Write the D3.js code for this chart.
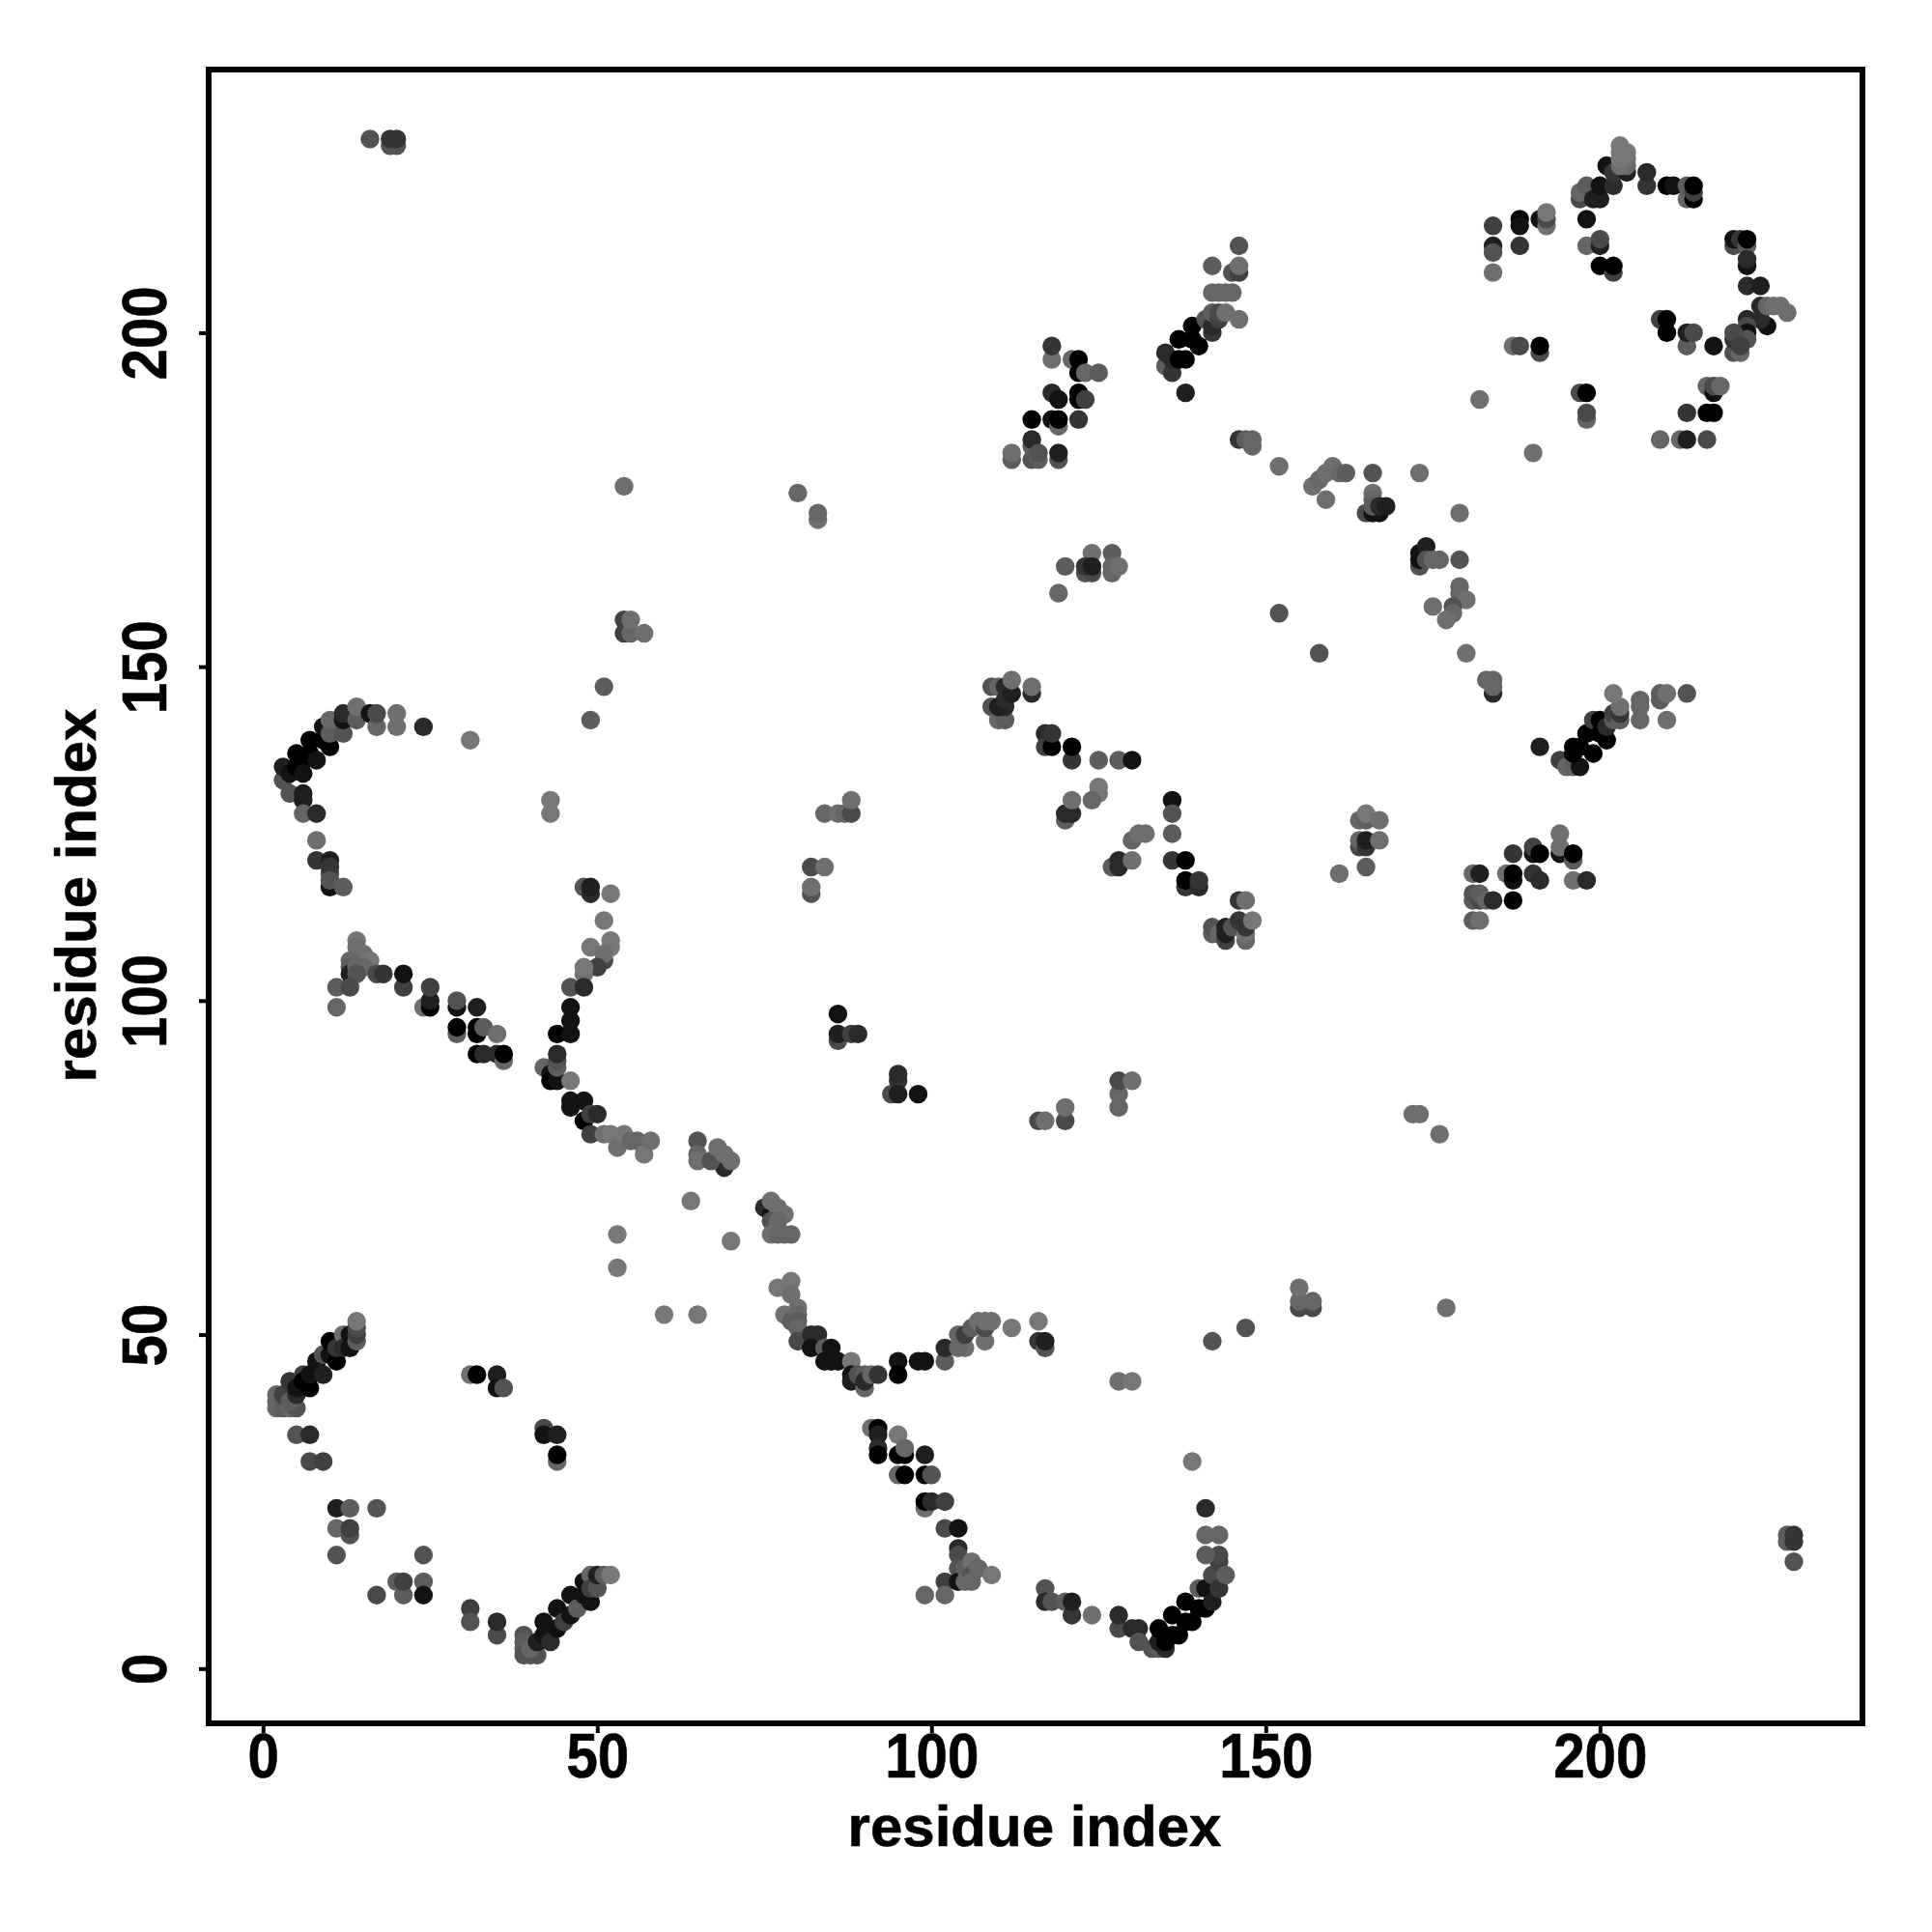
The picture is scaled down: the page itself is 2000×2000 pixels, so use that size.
<!DOCTYPE html>
<html><head><meta charset="utf-8">
<script src="https://cdn.jsdelivr.net/npm/d3@7"></script>
<style>html,body{margin:0;padding:0;background:#fff}svg{display:block}
text{font-family:"Liberation Sans",Arial,sans-serif;font-weight:700;fill:#000}</style>
</head><body><svg id="c" width="2000" height="2000"></svg>
<script>
// Each contact: [residue i, residue j, shade] ; shade 0 = black ... 12 = lightest grey
const xTicks=[0,50,100,150,200];
const yTicks=[0,50,100,150,200];
const axisLabel="residue index";
const lowerLeftCurve=[[2,41,9],[2,40,9],[2,39,9],[3,39,8],[4,39,9],[5,39,7],[3,41,5],[4,40,8],[4,43,4],[5,41,3],[5,42,1],[6,44,5],[6,43,0],[7,42,0],[7,44,1],[8,45,1],[8,46,1],[9,44,2],[9,47,7],[10,47,1],[10,49,0],[11,46,0],[11,48,4],[12,50,10],[12,48,3],[13,48,1],[13,50,1],[14,49,8],[14,50,5],[14,51,6],[14,52,11]];
const lowerLeftLoop=[[5,35,7],[7,35,3],[7,31,6],[9,31,5],[11,24,2],[13,24,8],[17,24,7],[11,21,9],[13,20,7],[13,21,5],[11,17,7],[24,17,7],[20,13,8],[21,11,8],[21,13,5],[24,13,8],[24,11,1],[17,11,6],[31,9,5],[31,7,7],[35,5,6],[35,7,3]];
const lowerLeftRise=[[39,5,7],[39,4,8],[39,3,8],[39,2,7],[40,2,7],[41,2,7],[40,3,9],[41,4,2],[42,5,1],[42,7,1],[43,4,3],[44,6,1],[44,9,1],[45,7,5],[46,8,1],[46,11,1],[47,9,8],[48,11,1],[48,13,1],[49,10,1],[49,14,9],[49,12,5],[50,12,7],[50,14,2],[51,14,8],[52,14,11]];
const sparseLow=[[53,65,11],[53,60,11],[70,64,11],[60,53,11],[65,53,11],[31,44,10],[32,44,0],[35,44,2],[35,42,1],[36,42,7],[42,36,6],[42,35,1],[44,35,2],[44,31,9],[44,32,0]];
const middleRibbon=[[75,69,3],[76,68,1],[76,70,10],[77,69,10],[78,68,10],[76,67,7],[77,67,9],[76,65,10],[77,65,9],[78,65,9],[79,65,9],[77,57,11],[79,58,11],[79,56,10],[78,53,10],[79,52,8],[80,54,10],[80,53,9],[80,52,8],[80,51,9],[80,49,6],[82,50,3],[83,50,3],[82,48,1],[84,48,8],[85,48,1],[84,46,1],[85,46,1],[86,46,1],[88,46,11],[88,44,1],[88,43,2],[89,44,7],[90,44,8],[90,42,9],[90,43,3],[91,44,9],[92,44,4]];
const middleArc=[[95,46,1],[95,44,0],[98,46,1],[99,46,1],[102,46,8],[102,48,3],[104,50,9],[105,48,10],[104,48,9],[105,50,5],[106,51,8],[107,52,10],[108,49,10],[108,51,6],[108,52,10],[109,52,10],[112,51,11],[116,52,11],[116,49,4],[117,48,7],[117,49,2],[128,43,10],[130,43,11],[142,49,7],[147,51,7]];
const middleFall=[[91,36,10],[92,36,0],[92,35,2],[92,33,3],[92,32,0],[95,35,11],[95,32,0],[96,32,0],[96,33,9],[99,32,2],[95,29,9],[96,29,0],[99,29,0],[100,29,7],[99,24,10],[99,25,0],[100,25,3],[102,25,5],[102,21,6],[104,21,1],[104,18,3],[104,17,6],[104,15,7],[102,13,5],[99,11,9],[102,11,9],[104,13,1],[105,15,8],[105,13,9],[106,16,10],[106,14,7],[106,13,9],[107,15,9],[109,14,11]];
const lowerMiddleCurve=[[117,12,7],[117,10,3],[118,10,7],[120,10,8],[121,8,4],[121,10,2],[124,8,10],[128,6,6],[128,8,3],[130,6,3],[131,6,3],[131,4,7],[133,3,7],[134,3,8],[135,3,3],[134,4,2],[134,6,0],[135,4,0],[136,5,0],[136,8,0],[137,5,0],[138,7,0],[138,10,0],[139,7,0],[140,12,8],[140,9,0],[141,9,0],[141,12,1],[142,10,2],[142,14,6],[143,12,4],[143,16,5],[143,17,6],[141,17,8],[144,14,8],[141,20,9],[143,20,9],[141,24,3],[139,31,11]];
const upperLeftArc=[[3,133,7],[3,135,2],[4,131,7],[4,134,1],[5,137,0],[5,135,0],[6,136,0],[6,134,1],[7,139,0],[7,137,0],[8,136,1],[9,139,0],[9,141,1],[10,138,0],[10,140,8],[10,142,9],[12,140,7],[12,142,1],[12,143,3],[14,142,8],[14,144,10],[16,143,1],[17,141,9],[17,143,6],[20,141,10],[20,143,10],[24,141,3],[31,139,11],[6,131,2],[6,130,2],[6,128,9],[8,128,3],[8,124,10],[8,121,4],[10,119,7],[10,121,2],[10,120,4],[10,117,1],[10,118,7],[12,117,8]];
const upperLeftTriangle=[[14,109,11],[14,108,10],[15,107,10],[16,106,11],[13,106,9],[13,105,8],[13,104,2],[14,105,9],[15,105,9],[14,104,7],[17,104,6],[18,104,4],[11,102,8],[13,102,6],[11,99,9],[21,102,5],[21,104,1],[24,99,10],[25,99,0],[25,100,2],[25,102,5],[29,99,1],[29,100,7],[29,95,8],[29,96,0],[32,99,2],[32,95,0],[32,96,0],[33,96,8],[35,95,10],[32,92,0],[33,92,3],[35,92,3],[36,91,9],[36,92,0]];
const centerVertical=[[51,147,8],[49,142,8],[43,130,11],[43,128,11],[48,117,7],[49,116,3],[49,117,2],[52,116,11],[51,112,11],[49,108,11],[52,109,11],[52,108,11],[51,106,6],[51,107,10],[50,105,5],[48,104,10],[48,105,11],[46,102,7],[48,102,3],[46,97,1],[46,99,1],[44,95,0],[46,95,1],[42,90,9],[43,89,1],[43,88,0],[44,88,1],[44,90,8],[44,91,7],[44,92,3],[46,88,11],[46,84,1],[46,85,1],[48,82,0],[48,85,1],[49,83,5],[50,83,3],[49,80,5],[51,80,10],[52,80,11],[53,78,10],[54,80,11],[55,79,9],[56,79,9],[57,77,11],[58,79,10],[69,75,3],[65,79,7],[65,77,9],[65,76,10],[67,76,7],[68,78,10],[69,77,10],[70,76,10],[64,70,11]];
const topLeftSparse=[[16,229,7],[19,228,7],[20,228,7],[19,229,4],[20,229,4],[54,177,10],[54,155,5],[54,157,5],[55,155,9],[55,157,10],[57,155,10],[80,176,9],[83,172,10],[83,173,9]];
const centerSparse=[[84,128,9],[86,128,10],[87,128,9],[88,128,6],[88,130,10],[82,116,7],[82,117,10],[82,120,6],[84,120,10],[86,94,6],[86,95,2],[86,98,1],[88,95,5],[89,95,3],[94,86,6],[95,88,4],[95,89,3],[95,86,2],[98,86,1],[128,84,9],[128,86,9],[128,88,6],[130,88,10],[120,82,6],[120,84,10],[116,82,6],[117,82,10],[172,83,10],[173,83,10],[176,80,10],[177,54,10],[155,54,6],[157,54,6],[155,55,9],[157,55,9],[155,57,10],[228,19,8],[228,20,8],[229,19,4],[229,20,4],[229,16,7]];
const centerFall=[[109,147,7],[110,147,9],[109,144,7],[110,142,9],[111,142,8],[111,144,3],[110,144,2],[111,145,3],[111,147,3],[112,146,2],[112,148,10],[115,146,3],[115,147,10],[117,140,3],[117,138,5],[118,138,0],[118,140,4],[121,136,4],[121,138,0],[125,136,8],[128,136,8],[130,136,1],[125,131,11],[125,132,11],[124,130,9],[120,127,8],[120,128,3],[121,128,3],[121,130,10],[130,124,9],[131,125,10],[132,125,10],[127,120,8],[128,120,3],[128,121,3],[130,121,10],[136,130,1],[136,128,7],[136,125,8],[136,121,4],[138,121,0],[138,117,4],[138,118,0],[140,117,3],[140,118,4],[146,115,4],[147,115,10],[142,110,8],[142,111,7],[143,110,9],[144,109,5],[144,110,2],[144,111,2],[145,111,7],[146,112,4],[147,109,9],[147,110,10],[147,111,4],[148,112,11]];
const centerRight=[[161,119,10],[165,120,8],[164,127,9],[165,127,8],[165,128,11],[167,127,10],[164,123,6],[164,124,9],[165,123,4],[165,124,2],[167,124,10],[181,119,9],[182,119,2],[181,115,8],[181,116,7],[182,115,6],[182,116,8],[183,115,9],[184,115,3],[187,115,0],[181,112,8],[182,112,10],[186,119,10],[187,118,1],[187,119,0],[187,122,4],[190,119,4],[191,118,3],[190,122,1],[190,123,5],[191,122,0],[194,125,10],[194,122,1],[194,123,10],[196,121,8],[196,122,0],[196,118,10],[198,118,3]];
const rightHelix=[[194,136,5],[195,135,9],[196,135,8],[197,135,1],[196,137,0],[196,138,0],[197,138,0],[198,140,0],[199,137,0],[199,142,5],[200,140,0],[200,142,0],[201,139,0],[201,141,3],[202,142,8],[202,143,5],[203,142,8],[203,143,4],[203,144,10],[202,146,11],[191,138,2],[206,142,9],[206,144,9],[206,145,9],[209,145,8],[209,146,8],[210,146,10],[210,142,10],[213,146,7]];
const riseToCorner=[[146,184,4],[147,184,8],[148,183,9],[148,184,9],[152,180,10],[157,177,10],[158,178,9],[159,179,10],[160,180,10],[159,175,10],[161,179,9],[162,179,8],[166,179,7],[173,179,10],[166,176,10],[166,175,9],[165,173,6],[166,173,1],[167,173,1],[166,174,8],[167,174,3],[168,174,2],[179,173,10],[173,165,7],[173,166,1],[173,167,1],[174,168,2],[174,166,7],[175,166,9],[176,166,9],[179,166,7],[179,162,9],[179,161,9],[180,160,10],[178,159,7],[178,158,9],[177,157,10],[175,159,10],[152,158,7],[158,152,7],[180,152,10],[184,146,3],[184,147,9],[183,148,9],[184,148,9]];
const upperMidCluster=[[112,181,8],[112,182,10],[115,181,7],[115,183,8],[115,184,3],[116,181,8],[116,182,7],[119,181,7],[119,182,2],[115,187,0],[118,187,1],[119,186,9],[119,187,0],[122,187,4],[118,191,3],[119,190,1],[122,190,0],[122,191,0],[123,190,5],[118,196,10],[118,198,4],[121,196,9],[122,194,0],[122,196,0],[123,194,9],[125,194,8]];
const upperMidHelix=[[135,195,8],[135,197,3],[136,194,4],[136,196,3],[137,196,0],[137,199,0],[138,191,2],[138,196,0],[139,199,0],[139,201,0],[140,198,0],[141,202,7],[142,200,4],[142,201,3],[142,203,8],[143,202,5],[143,203,6],[144,203,10],[146,202,10],[142,206,9],[143,206,9],[144,206,9],[145,206,9],[142,210,8],[145,209,7],[146,209,5],[146,210,10],[146,213,7]];
const midPatch=[[124,167,10],[127,167,8],[120,165,8],[123,164,7],[124,164,6],[123,165,4],[124,165,2],[127,164,9],[127,165,9],[128,165,10],[119,161,9]];
const topRightLeft=[[182,190,10],[190,182,10],[184,216,5],[184,213,2],[184,212,7],[184,209,10],[188,217,0],[188,216,1],[188,213,4],[191,217,1],[192,216,10],[192,217,6],[192,218,11],[187,198,10],[188,198,6],[191,197,6],[191,198,0]];
const topRightArc=[[197,220,6],[197,221,9],[198,222,8],[198,217,1],[199,220,2],[200,220,2],[200,222,1],[201,225,1],[202,222,3],[202,224,4],[204,224,2],[204,225,9],[204,226,10],[204,227,11],[203,225,10],[203,226,11],[203,227,11],[203,228,11],[207,222,4],[207,224,3],[210,222,0],[211,222,1],[213,220,9],[213,222,8],[214,220,0],[214,221,5],[214,222,0]];
const topRightInner=[[198,213,9],[200,213,2],[200,214,6],[200,210,0],[202,209,5],[202,210,0],[197,191,6],[198,191,0],[198,187,9],[198,188,6]];
const topRightEdge=[[220,213,6],[220,214,1],[221,214,4],[222,213,8],[222,214,0],[222,210,1],[222,211,3],[222,207,3],[224,207,2],[224,204,3],[225,201,1],[224,202,3],[225,204,9],[226,204,10],[227,204,10],[228,203,10],[222,202,3],[222,201,6],[222,200,1],[222,199,7],[220,197,7],[220,199,4],[220,200,6],[221,197,9],[221,198,5]];
const topRightLower=[[209,202,5],[210,202,0],[210,200,0],[213,198,8],[213,200,2],[214,200,6],[217,198,1],[216,192,9],[217,191,1],[217,192,6],[218,192,9],[213,188,4],[216,188,0],[217,188,0],[209,184,9],[212,184,9],[213,184,2],[216,184,6]];

const groups=[lowerLeftCurve,lowerLeftLoop,lowerLeftRise,sparseLow,middleRibbon,middleArc,middleFall,lowerMiddleCurve,upperLeftArc,upperLeftTriangle,centerVertical,topLeftSparse,centerSparse,centerFall,centerRight,rightHelix,riseToCorner,upperMidCluster,upperMidHelix,midPatch,topRightLeft,topRightArc,topRightInner,topRightEdge,topRightLower];

const svg=d3.select("#c");
const x=d3.scaleLinear().domain([0,200]).range([272.3,1656.3]);
const y=d3.scaleLinear().domain([0,200]).range([1727.3,344.4]);
const shade=d3.scalePow().exponent(0.8).domain([0,12]).range(["#000000","#808080"]);
const frame={l:216,t:72,r:1928,b:1784};

svg.append("g").selectAll("g").data(groups).join("g").selectAll("circle").data(d=>d).join("circle")
 .attr("cx",d=>x(d[0])).attr("cy",d=>y(d[1])).attr("r",9.7).attr("fill",d=>shade(d[2]));

svg.append("rect").attr("x",frame.l).attr("y",frame.t).attr("width",frame.r-frame.l).attr("height",frame.b-frame.t)
 .attr("fill","none").attr("stroke","#000").attr("stroke-width",6);

const ax=svg.append("g").attr("transform",`translate(0,${frame.b+3})`)
 .call(d3.axisBottom(x).tickValues(xTicks).tickSize(7).tickSizeOuter(0));
ax.select(".domain").remove();
ax.selectAll("line").attr("stroke","#000").attr("stroke-width",4);
ax.selectAll("text").attr("font-size",64).attr("fill","#000").attr("y",null).attr("dy",null)
 .attr("stroke","#000").attr("stroke-width",0.6)
 .attr("transform","translate(0,53) scale(0.91,1)");

const ay=svg.append("g").attr("transform",`translate(${frame.l-3},0)`)
 .call(d3.axisLeft(y).tickValues(yTicks).tickSize(7).tickSizeOuter(0));
ay.select(".domain").remove();
ay.selectAll("line").attr("stroke","#000").attr("stroke-width",4);
ay.selectAll("text").attr("font-size",64).attr("fill","#000").attr("x",null).attr("dy",null)
 .attr("stroke","#000").attr("stroke-width",0.6)
 .attr("text-anchor","middle").attr("transform","translate(-41,0) rotate(-90) scale(0.91,1)");

svg.append("text").attr("x",1071).attr("y",1911).attr("text-anchor","middle").attr("font-size",60).attr("stroke","#000").attr("stroke-width",0.6).text(axisLabel);
svg.append("text").attr("transform","translate(99,927) rotate(-90)").attr("text-anchor","middle").attr("font-size",60).attr("stroke","#000").attr("stroke-width",0.6).text(axisLabel);
</script></body></html>
